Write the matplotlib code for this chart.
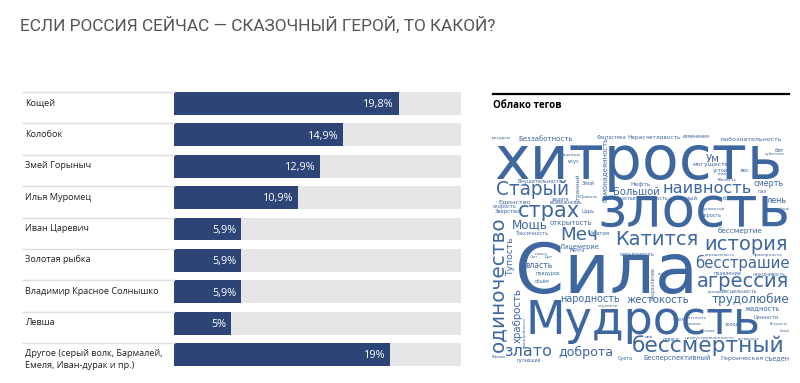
import matplotlib
matplotlib.use("Agg")
import matplotlib.pyplot as plt
from matplotlib.transforms import blended_transform_factory
from matplotlib.lines import Line2D

# --------------------------------------------
# データ
# --------------------------------------------
title = "ЕСЛИ РОССИЯ СЕЙЧАС — СКАЗОЧНЫЙ ГЕРОЙ, ТО КАКОЙ?"
heroes = ["Кощей", "Колобок", "Змей Горыныч", "Илья Муромец", "Иван Царевич",
          "Золотая рыбка", "Владимир Красное Солнышко", "Левша",
          "Другое (серый волк, Бармалей,\nЕмеля, Иван-дурак и пр.)"]
shares = [19.8, 14.9, 12.9, 10.9, 5.9, 5.9, 5.9, 5, 19]

cloud_title = "Облако тегов"
cloud_words = ["хитрость", "злость", "Сила", "Мудрость", "бессмертный", "одиночество",
               "история", "Старый", "наивность", "страх", "Катится", "Меч",
               "бесстрашие", "агрессия", "трудолюбие", "злато", "доброта", "Мощь",
               "Большой", "Ум", "могущество", "смерть", "лень", "власть",
               "Лицемерие", "народность", "жестокость", "храбрость", "Тупость",
               "Беззаботность", "любознательность", "Нерасчетливость", "Нефть",
               "Самонадеянность", "Странный", "Злой", "Царь", "Единство",
               "открытость", "Токсичность", "опасный", "большая", "враждебный",
               "серость", "бессмертие", "лес", "газ", "бег", "устои", "жадность",
               "Ценности", "отвага", "Бесперспективный", "Героическая", "съеден",
               "Суета", "пугающий", "бесцельность", "отрешенность", "глупость",
               "безразличие", "честность", "признание", "активность", "Хилый",
               "Везучесть", "объём", "придурок", "Цит", "враждебность", "ресурсы",
               "скорость", "Надежды", "вкус", "Внушительность", "защита",
               "возможность", "Зверство", "Правота", "Фантастика", "изменения",
               "глуповатый", "Ирония", "смех", "холод", "Мечта", "Апатия",
               "проворность", "находчивость", "правление", "размеры",
               "серьёзность", "Реформы", "поиск", "Сон", "губитель", "опыт",
               "Жалость", "Безответственность", "целеустремленность", "скупость",
               "мир"]

# 配置 (x, ベースライン y, 長さ, 回転) ピクセル単位
cloud_layout = [
    (494, 179, 288, 0), (597, 226, 193, 0), (515, 293, 185, 0), (525, 334, 235, 0),
    (632, 352, 153, 0), (503, 352, 135, 90), (704, 250, 84, 0), (496, 195, 74, 0),
    (663, 193, 89, 0), (518, 217, 62, 0), (615, 245, 83, 0), (560, 240, 38, 0),
    (695, 268, 95, 0), (697, 287, 93, 0), (712, 303, 78, 0), (504, 356, 48, 0),
    (558, 356, 55, 0), (512, 228, 36, 0), (613, 195, 47, 0), (706, 162, 14, 0),
    (692, 166, 40, 0), (754, 186, 30, 0), (767, 203, 20, 0), (525, 268, 27, 0),
    (560, 249, 40, 0), (560, 302, 60, 0), (627, 303, 63, 0), (521, 343, 55, 90),
    (513, 275, 38, 90), (518, 141, 55, 0), (720, 141, 62, 0), (627, 139, 53, 0),
    (630, 186, 20, 0), (607, 202, 65, 90), (580, 203, 30, 90), (582, 185, 13, 0),
    (582, 213, 13, 0), (498, 203, 32, 0), (550, 225, 42, 0), (515, 235, 33, 0),
    (673, 200, 25, 0), (723, 200, 24, 0), (768, 210, 22, 0), (702, 217, 20, 0),
    (718, 233, 45, 0), (740, 172, 10, 0), (758, 193, 9, 0), (775, 152, 10, 0),
    (713, 172, 15, 0), (745, 310, 35, 0), (753, 318, 25, 0), (663, 341, 17, 0),
    (643, 360, 67, 0), (720, 360, 43, 0), (765, 360, 25, 0), (618, 360, 15, 0),
    (517, 362, 25, 0), (722, 293, 36, 0), (705, 256, 30, 0), (658, 275, 14, 0),
    (655, 300, 33, 90), (687, 319, 20, 0), (685, 325, 17, 0), (738, 340, 22, 0),
    (780, 332, 10, 0), (770, 325, 18, 0), (535, 283, 15, 0), (535, 275, 25, 0),
    (545, 257, 8, 0), (526, 348, 32, 90), (492, 139, 19, 0), (493, 208, 24, 0),
    (561, 156, 20, 0), (567, 163, 12, 0), (518, 183, 45, 0), (552, 200, 18, 0),
    (550, 204, 33, 0), (495, 213, 25, 0), (580, 198, 18, 0), (597, 139, 30, 0),
    (683, 138, 27, 0), (700, 210, 25, 0), (700, 332, 15, 0), (673, 321, 12, 0),
    (725, 325, 15, 0), (570, 252, 15, 0), (590, 235, 20, 0), (753, 256, 30, 0),
    (753, 275, 33, 0), (713, 275, 28, 0), (708, 293, 16, 0), (620, 256, 35, 0),
    (492, 358, 15, 0), (535, 255, 13, 0), (530, 258, 8, 0), (765, 155, 20, 0),
    (718, 175, 10, 0), (717, 181, 20, 0), (615, 200, 52, 0), (685, 339, 50, 0),
    (598, 307, 20, 0), (645, 338, 8, 0),
]

# --------------------------------------------
# 描画
# --------------------------------------------
W, H = 800, 383
bar_color = "#2c4576"
back_color = "#e6e6e6"
cloud_color = "#3e67a0"
xmax = 25.3

fig = plt.figure(figsize=(W / 100, H / 100), dpi=100)
renderer = fig.canvas.get_renderer()

# タイトル（幅を合わせる）
t = fig.text(20 / W, 1 - 31 / H, title, fontsize=14, color="#555555",
             family=["Liberation Sans Narrow", "Roboto"], va="baseline", ha="left")
t.set_fontsize(14 * 478 / t.get_window_extent(renderer).width)

# 棒グラフ
top_px, bot_px = 87.8, 370.2
ax = fig.add_axes([174 / W, 1 - bot_px / H, (461 - 174) / W, (bot_px - top_px) / H])
pos = list(range(len(heroes)))
bh = 0.73
ax.barh(pos, [xmax] * len(pos), height=bh, color=back_color, zorder=1)
ax.barh(pos, shares, height=bh, color=bar_color, zorder=2)
ax.set_xlim(0, xmax)
ax.set_ylim(len(heroes) - 0.5, -0.5)
ax.axis("off")

tr = blended_transform_factory(fig.transFigure, ax.transData)
for i, (name, v) in enumerate(zip(heroes, shares)):
    ax.text(v - 0.4, i + 0.04, f"{v:g}".replace(".", ",") + "%", color="white",
            fontsize=7.8, family="Open Sans", ha="right", va="center", zorder=3)
    for k, line in enumerate(name.split("\n")):
        ax.text(25 / W, i + 0.06 + k * 0.37, line, transform=tr, fontsize=6.6,
                family="Open Sans", color="#222222", ha="left", va="baseline")
    ax.add_line(Line2D([22 / W, 174 / W], [i - bh / 2, i - bh / 2], transform=tr,
                       color="#dedede", lw=1, clip_on=False))

# 右側: 見出し
fig.add_artist(Line2D([493 / W, 789 / W], [1 - 94 / H, 1 - 94 / H], color="black", lw=1.6))
fig.text(493 / W, 1 - 108 / H, cloud_title, fontsize=7, weight="bold",
         family="Open Sans", color="black", va="baseline")

# 右側: 単語クラウド
ax2 = fig.add_axes([0, 0, 1, 1])
ax2.set_xlim(0, W)
ax2.set_ylim(H, 0)
ax2.axis("off")
for word, (x, y, length, rot) in zip(cloud_words, cloud_layout):
    t = ax2.text(x, y, word, fontsize=10, color=cloud_color, family="DejaVu Sans",
                 ha="left", va="baseline", rotation_mode="anchor")
    w = t.get_window_extent(renderer).width
    t.set_fontsize(10 * length / w)
    t.set_rotation(rot)

fig.savefig("out.png", dpi=100)
